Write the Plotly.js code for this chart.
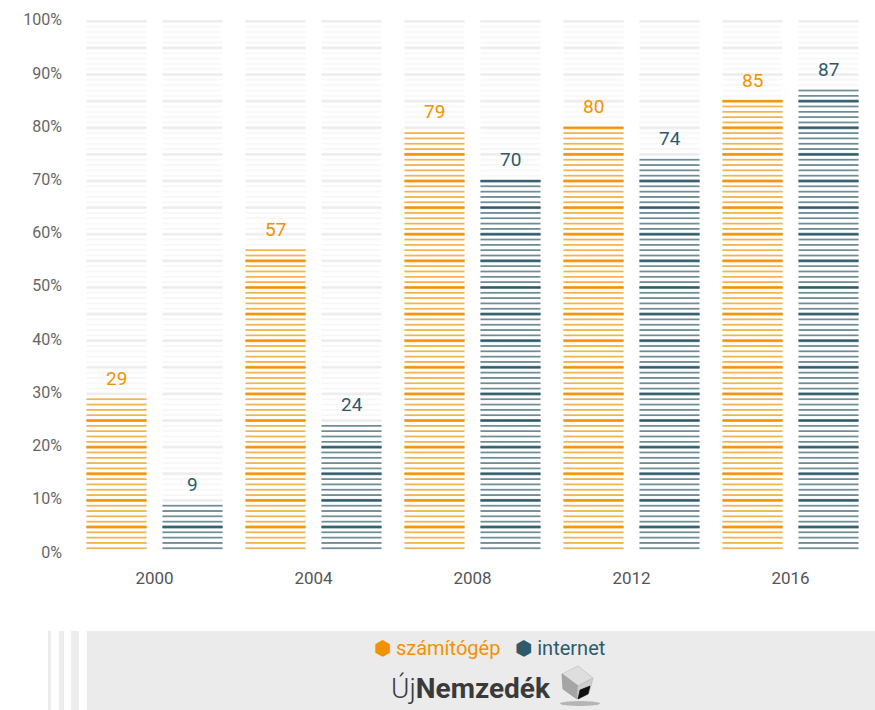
<!DOCTYPE html>
<html>
<head>
<meta charset="utf-8">
<script src="https://cdn.plot.ly/plotly-3.0.1.min.js"></script>
<style>
  html, body { margin: 0; padding: 0; background: #fff; }
  #chart { width: 875px; height: 710px; }
</style>
</head>
<body>
<div id="chart"></div>
<script>
// ---- data ----
const years = ['2000', '2004', '2008', '2012', '2016'];
const computer = [29, 57, 79, 80, 85];   // számítógép
const internet = [9, 24, 70, 74, 87];    // internet
const fullScale = [100, 100, 100, 100, 100];
const seriesNames = ['számítógép', 'internet'];
const yTickVals = [0, 10, 20, 30, 40, 50, 60, 70, 80, 90, 100];
const yTickText = ['0%', '10%', '20%', '30%', '40%', '50%', '60%', '70%', '80%', '90%', '100%'];

// ---- styles ----
const ORANGE = '#F39200';
const BLUE = '#2E5A6B';
const GRAY_THIN = '#f3f3f3';
const GRAY_THICK = '#ececec';
const FONT = 'Roboto, "Open Sans", sans-serif';

const xIdx = years.map((_, i) => i);
const BW = 0.378;      // bar width (x units)
const GAP = 0.1;       // gap between the two bars of a year
const offA = -(BW + GAP / 2);
const offB = GAP / 2;

const Y_TOP = 102.2;
const PLOT_H = 544;
const unitPx = PLOT_H / Y_TOP;      // pixels per 1%

function stripeBars(values, offset, color, thinColor, thickColor, name) {
  const base = {
    type: 'bar', x: xIdx, y: values, offset: offset, width: BW,
    hoverinfo: 'skip', showlegend: false, name: name,
    marker: { color: 'rgba(0,0,0,0)', line: { width: 0 } }
  };
  const thin = JSON.parse(JSON.stringify(base));
  thin.marker.pattern = {
    shape: '-', size: unitPx, solidity: 1.2 / unitPx,
    fgcolor: thinColor || color, fillmode: 'replace', bgcolor: 'rgba(0,0,0,0)'
  };
  const thick = JSON.parse(JSON.stringify(base));
  thick.marker.pattern = {
    shape: '-', size: unitPx * 5, solidity: 2.4 / (unitPx * 5),
    fgcolor: thickColor || color, fillmode: 'replace', bgcolor: 'rgba(0,0,0,0)'
  };
  return [thin, thick];
}

const traces = [].concat(
  stripeBars(fullScale, offA, null, GRAY_THIN, GRAY_THICK, 'háttér'),
  stripeBars(fullScale, offB, null, GRAY_THIN, GRAY_THICK, 'háttér'),
  stripeBars(computer, offA, ORANGE, null, null, seriesNames[0]),
  stripeBars(internet, offB, BLUE, null, null, seriesNames[1])
);

// value labels
const annotations = [];
computer.forEach((v, i) => annotations.push({
  x: i + offA + BW / 2, y: v, xref: 'x', yref: 'y', text: String(v),
  showarrow: false, yanchor: 'bottom', yshift: 6,
  font: { family: FONT, size: 19, color: ORANGE }
}));
internet.forEach((v, i) => annotations.push({
  x: i + offB + BW / 2, y: v, xref: 'x', yref: 'y', text: String(v),
  showarrow: false, yanchor: 'bottom', yshift: 6,
  font: { family: FONT, size: 19, color: BLUE }
}));
// legend (as text)
annotations.push({
  xref: 'paper', yref: 'paper', x: (489 - 75) / 795, y: -(648 - 552) / PLOT_H, xanchor: 'center', yanchor: 'middle',
  showarrow: false,
  text: '<span style="color:' + ORANGE + '">⬢ ' + seriesNames[0] + '</span>&nbsp;&nbsp;&nbsp;<span style="color:' + BLUE + '">⬢ ' + seriesNames[1] + '</span>',
  font: { family: FONT, size: 20 }
});
// logo
annotations.push({
  xref: 'paper', yref: 'paper', x: (553 - 75) / 795, y: -(688 - 552) / PLOT_H, xanchor: 'right', yanchor: 'middle',
  text: '<span style="font-weight:300">Új</span><b>Nemzedék</b>', showarrow: false,
  font: { family: FONT, size: 28, color: '#3a3a3a' }
});

const px = v => (v - 75) / 795;
const py = v => -(v - 552) / PLOT_H;
const shapes = [
  // footer panel
  { type: 'rect', xref: 'paper', yref: 'paper', x0: px(87), x1: px(880), y0: py(712), y1: py(631),
    fillcolor: '#ebebeb', line: { width: 0 }, layer: 'below' },
  { type: 'rect', xref: 'paper', yref: 'paper', x0: px(48), x1: px(51), y0: py(712), y1: py(631),
    fillcolor: '#ededed', line: { width: 0 }, layer: 'below' },
  { type: 'rect', xref: 'paper', yref: 'paper', x0: px(59), x1: px(64), y0: py(712), y1: py(631),
    fillcolor: '#ededed', line: { width: 0 }, layer: 'below' },
  { type: 'rect', xref: 'paper', yref: 'paper', x0: px(71), x1: px(79), y0: py(712), y1: py(631),
    fillcolor: '#ededed', line: { width: 0 }, layer: 'below' },
  // logo cube (approximation)
  { type: 'circle', xref: 'paper', yref: 'paper', x0: px(560), x1: px(600), y0: py(706), y1: py(701),
    fillcolor: 'rgba(80,80,80,0.35)', line: { width: 0 }, layer: 'below' },
  { type: 'path', xref: 'paper', yref: 'paper',
    path: `M ${px(562)} ${py(674)} L ${px(578)} ${py(666)} L ${px(593)} ${py(678)} L ${px(578)} ${py(686)} Z`,
    fillcolor: '#dedede', line: { color: '#c4c4c4', width: 0.8 } },
  { type: 'path', xref: 'paper', yref: 'paper',
    path: `M ${px(562)} ${py(674)} L ${px(578)} ${py(686)} L ${px(577)} ${py(699)} L ${px(563)} ${py(689)} Z`,
    fillcolor: '#a5a5a5', line: { color: '#999', width: 0.8 } },
  { type: 'path', xref: 'paper', yref: 'paper',
    path: `M ${px(578)} ${py(686)} L ${px(593)} ${py(678)} L ${px(589)} ${py(693)} L ${px(577)} ${py(699)} Z`,
    fillcolor: '#cfcfcf', line: { color: '#bbb', width: 0.8 } },
  { type: 'path', xref: 'paper', yref: 'paper',
    path: `M ${px(580)} ${py(690)} L ${px(590)} ${py(686)} L ${px(588)} ${py(694)} L ${px(578)} ${py(699)} Z`,
    fillcolor: '#111', line: { color: '#000', width: 0.6 } }
];

const layout = {
  width: 875, height: 710,
  margin: { l: 75, r: 5, t: 8, b: 158, pad: 0 },
  paper_bgcolor: '#ffffff', plot_bgcolor: 'rgba(0,0,0,0)',
  barmode: 'overlay',
  font: { family: FONT, color: '#666' },
  showlegend: false,
  xaxis: {
    range: [-0.5, 4.5], tickmode: 'array', tickvals: xIdx, ticktext: years,
    showgrid: false, zeroline: false, showline: false, ticks: '',
    ticklabelstandoff: 14, tickfont: { family: FONT, size: 17, color: '#555' }, fixedrange: true
  },
  yaxis: {
    range: [0, Y_TOP], tickmode: 'array', tickvals: yTickVals, ticktext: yTickText,
    showgrid: false, zeroline: false, showline: false, ticks: '',
    ticklabelstandoff: 12, tickfont: { family: FONT, size: 16, color: '#666' }, fixedrange: true
  },
  annotations: annotations,
  shapes: shapes
};

Plotly.newPlot('chart', traces, layout, { displayModeBar: false, staticPlot: true });
</script>
</body>
</html>
